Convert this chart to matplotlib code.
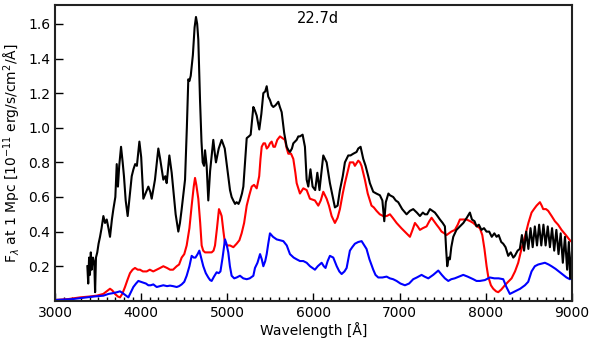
import numpy as np
import matplotlib
matplotlib.use("Agg")
import matplotlib.pyplot as plt

# black spectrum (observed)
black_wave = [3375, 3385, 3395, 3405, 3415, 3425, 3440, 3455, 3465, 3475, 3490, 3505, 3522, 3540, 3561,
              3580, 3600, 3620, 3638, 3660, 3677, 3700, 3716, 3730, 3745, 3766, 3785, 3800, 3820, 3843,
              3865, 3890, 3910, 3930, 3950, 3979, 4000, 4015, 4025, 4050, 4083, 4105, 4122, 4160, 4199,
              4220, 4238, 4257, 4280, 4296, 4327, 4354, 4373, 4400, 4431, 4450, 4470, 4509, 4530, 4547,
              4560, 4575, 4600, 4620, 4636, 4650, 4663, 4683, 4700, 4714, 4730, 4741, 4760, 4779, 4800,
              4837, 4855, 4868, 4900, 4934, 4970, 5000, 5031, 5050, 5069, 5090, 5108, 5130, 5147, 5170,
              5186, 5205, 5225, 5250, 5271, 5302, 5320, 5341, 5371, 5395, 5418, 5440, 5457, 5475, 5495,
              5515, 5534, 5560, 5592, 5610, 5631, 5660, 5689, 5710, 5727, 5750, 5766, 5785, 5805, 5824,
              5843, 5874, 5901, 5921, 5940, 5965, 5990, 6020, 6045, 6070, 6114, 6153, 6191, 6249, 6280,
              6307, 6340, 6365, 6404, 6430, 6462, 6500, 6520, 6547, 6578, 6605, 6636, 6655, 6694, 6730,
              6771, 6800, 6822, 6840, 6870, 6888, 6926, 6955, 6984, 7030, 7081, 7120, 7158, 7200, 7236,
              7270, 7294, 7320, 7352, 7380, 7410, 7440, 7468, 7500, 7526, 7540, 7553, 7570, 7584, 7600,
              7623, 7660, 7700, 7740, 7780, 7816, 7840, 7870, 7893, 7920, 7950, 7980, 8009, 8040, 8070,
              8100, 8126, 8150, 8180, 8203, 8230, 8261, 8290, 8320, 8338, 8370, 8396, 8420, 8445, 8470,
              8495, 8520, 8545, 8570, 8595, 8620, 8645, 8670, 8695, 8720, 8745, 8770, 8795, 8820, 8845,
              8870, 8895, 8920, 8945, 8965, 8980, 9000]
black_flux = [0.20, 0.10, 0.25, 0.15, 0.28, 0.18, 0.25, 0.22, 0.05, 0.25, 0.28, 0.33, 0.37, 0.42, 0.49,
              0.45, 0.47, 0.42, 0.37, 0.47, 0.53, 0.60, 0.79, 0.66, 0.78, 0.89, 0.80, 0.72, 0.58, 0.49,
              0.60, 0.72, 0.76, 0.79, 0.78, 0.92, 0.83, 0.68, 0.59, 0.62, 0.66, 0.63, 0.59, 0.70, 0.88,
              0.82, 0.76, 0.70, 0.72, 0.68, 0.84, 0.74, 0.64, 0.50, 0.40, 0.45, 0.53, 0.70, 1.00, 1.28,
              1.27, 1.30, 1.42, 1.58, 1.64, 1.60, 1.51, 1.16, 0.92, 0.80, 0.78, 0.87, 0.78, 0.58, 0.75,
              0.93, 0.85, 0.80, 0.88, 0.93, 0.88, 0.76, 0.64, 0.60, 0.58, 0.56, 0.57, 0.56, 0.58, 0.62,
              0.66, 0.80, 0.94, 0.95, 0.96, 1.12, 1.10, 1.07, 0.99, 1.08, 1.20, 1.21, 1.24, 1.18, 1.16,
              1.13, 1.12, 1.13, 1.15, 1.12, 1.09, 0.97, 0.89, 0.87, 0.86, 0.88, 0.91, 0.92, 0.93, 0.95,
              0.95, 0.96, 0.89, 0.70, 0.66, 0.76, 0.66, 0.64, 0.74, 0.64, 0.84, 0.80, 0.68, 0.54, 0.55,
              0.64, 0.72, 0.80, 0.84, 0.84, 0.85, 0.86, 0.88, 0.89, 0.82, 0.78, 0.72, 0.68, 0.63, 0.62,
              0.61, 0.58, 0.46, 0.57, 0.62, 0.61, 0.60, 0.58, 0.57, 0.53, 0.50, 0.52, 0.53, 0.51, 0.49,
              0.51, 0.50, 0.50, 0.53, 0.52, 0.51, 0.49, 0.47, 0.45, 0.43, 0.30, 0.20, 0.25, 0.24, 0.31,
              0.37, 0.41, 0.43, 0.45, 0.48, 0.51, 0.47, 0.46, 0.43, 0.44, 0.41, 0.42, 0.40, 0.40, 0.37,
              0.39, 0.37, 0.38, 0.34, 0.33, 0.31, 0.26, 0.28, 0.25, 0.26, 0.29, 0.30, 0.38, 0.29, 0.40,
              0.30, 0.42, 0.31, 0.43, 0.32, 0.44, 0.32, 0.44, 0.32, 0.43, 0.31, 0.42, 0.29, 0.41, 0.27,
              0.39, 0.22, 0.37, 0.18, 0.34, 0.13, 0.28]

# red model
red_wave = [3000, 3150, 3290, 3400, 3484, 3560, 3600, 3638, 3665, 3696, 3730, 3754, 3780, 3812, 3840,
            3870, 3900, 3928, 3960, 3986, 4020, 4064, 4100, 4140, 4180, 4220, 4257, 4300, 4335, 4370,
            4412, 4440, 4470, 4500, 4528, 4560, 4586, 4610, 4625, 4640, 4663, 4685, 4702, 4720, 4741,
            4780, 4818, 4840, 4857, 4880, 4903, 4920, 4934, 4955, 4973, 5000, 5031, 5070, 5108, 5140,
            5166, 5195, 5225, 5255, 5283, 5310, 5341, 5370, 5385, 5399, 5420, 5438, 5458, 5476, 5495,
            5515, 5535, 5553, 5580, 5611, 5640, 5669, 5690, 5708, 5740, 5766, 5790, 5805, 5843, 5882,
            5921, 5959, 6017, 6056, 6085, 6114, 6153, 6180, 6211, 6249, 6280, 6307, 6340, 6365, 6404,
            6423, 6462, 6481, 6520, 6540, 6558, 6597, 6630, 6674, 6700, 6732, 6770, 6810, 6850, 6888,
            6920, 6965, 7020, 7081, 7120, 7150, 7178, 7210, 7236, 7270, 7313, 7345, 7371, 7400, 7429,
            7460, 7487, 7520, 7545, 7600, 7642, 7675, 7700, 7740, 7777, 7820, 7855, 7900, 7932, 7960,
            7985, 8010, 8029, 8060, 8087, 8120, 8145, 8180, 8222, 8260, 8300, 8340, 8377, 8415, 8455,
            8495, 8532, 8560, 8590, 8629, 8650, 8667, 8700, 8725, 8765, 8803, 8840, 8880, 8930, 8977,
            9000]
red_flux = [0.005, 0.01, 0.02, 0.025, 0.03, 0.04, 0.055, 0.07, 0.06, 0.04, 0.025, 0.02, 0.04, 0.08, 0.12,
            0.16, 0.18, 0.19, 0.18, 0.18, 0.17, 0.17, 0.18, 0.17, 0.18, 0.19, 0.20, 0.19, 0.18, 0.18,
            0.20, 0.21, 0.25, 0.27, 0.32, 0.42, 0.55, 0.66, 0.71, 0.67, 0.59, 0.45, 0.32, 0.29, 0.28,
            0.28, 0.28, 0.29, 0.32, 0.42, 0.53, 0.51, 0.49, 0.40, 0.33, 0.32, 0.32, 0.31, 0.33, 0.35,
            0.39, 0.45, 0.55, 0.61, 0.66, 0.67, 0.65, 0.72, 0.82, 0.89, 0.91, 0.91, 0.88, 0.89, 0.91,
            0.92, 0.89, 0.89, 0.93, 0.95, 0.94, 0.93, 0.88, 0.85, 0.85, 0.82, 0.74, 0.68, 0.62, 0.65,
            0.64, 0.59, 0.58, 0.55, 0.58, 0.63, 0.59, 0.55, 0.49, 0.45, 0.48, 0.53, 0.62, 0.68, 0.76,
            0.80, 0.80, 0.78, 0.81, 0.80, 0.78, 0.70, 0.62, 0.55, 0.54, 0.52, 0.50, 0.49, 0.49, 0.50,
            0.48, 0.45, 0.42, 0.39, 0.37, 0.41, 0.45, 0.43, 0.41, 0.42, 0.43, 0.46, 0.48, 0.46, 0.44,
            0.42, 0.40, 0.39, 0.38, 0.40, 0.41, 0.44, 0.47, 0.47, 0.47, 0.46, 0.45, 0.43, 0.42, 0.38,
            0.30, 0.20, 0.14, 0.09, 0.07, 0.055, 0.05, 0.065, 0.09, 0.11, 0.13, 0.17, 0.22, 0.30, 0.37,
            0.45, 0.51, 0.53, 0.55, 0.57, 0.55, 0.53, 0.53, 0.52, 0.49, 0.46, 0.44, 0.41, 0.38, 0.35,
            0.34]

# blue model
blue_wave = [3000, 3200, 3367, 3450, 3561, 3620, 3677, 3720, 3754, 3785, 3812, 3851, 3880, 3909, 3940,
             3967, 3995, 4025, 4055, 4083, 4110, 4141, 4180, 4220, 4257, 4300, 4335, 4370, 4412, 4440,
             4470, 4500, 4528, 4560, 4586, 4610, 4630, 4655, 4675, 4700, 4721, 4750, 4779, 4800, 4818,
             4845, 4876, 4900, 4920, 4945, 4973, 4990, 5011, 5030, 5050, 5080, 5108, 5147, 5185, 5225,
             5260, 5302, 5321, 5350, 5380, 5400, 5418, 5440, 5457, 5475, 5495, 5530, 5573, 5610, 5650,
             5690, 5727, 5770, 5805, 5843, 5882, 5921, 5960, 6017, 6050, 6095, 6120, 6140, 6165, 6191,
             6230, 6270, 6300, 6327, 6360, 6385, 6423, 6450, 6481, 6520, 6559, 6590, 6616, 6650, 6694,
             6720, 6752, 6800, 6849, 6887, 6925, 6965, 7010, 7062, 7110, 7158, 7200, 7255, 7290, 7333,
             7390, 7449, 7490, 7526, 7565, 7600, 7640, 7690, 7739, 7790, 7855, 7893, 7932, 7990, 8048,
             8100, 8150, 8203, 8240, 8280, 8320, 8358, 8400, 8455, 8493, 8532, 8570, 8609, 8650, 8687,
             8730, 8764, 8810, 8861, 8900, 8938, 8977, 9000]
blue_flux = [0.005, 0.01, 0.02, 0.025, 0.03, 0.04, 0.045, 0.05, 0.055, 0.045, 0.035, 0.02, 0.05, 0.08, 0.10,
             0.115, 0.11, 0.105, 0.10, 0.09, 0.09, 0.095, 0.08, 0.085, 0.09, 0.085, 0.088, 0.085, 0.08, 0.085,
             0.095, 0.11, 0.145, 0.20, 0.26, 0.25, 0.25, 0.27, 0.29, 0.24, 0.20, 0.16, 0.135, 0.12, 0.115,
             0.14, 0.165, 0.16, 0.17, 0.25, 0.355, 0.33, 0.28, 0.20, 0.145, 0.13, 0.135, 0.145, 0.13, 0.125,
             0.13, 0.145, 0.19, 0.22, 0.27, 0.24, 0.20, 0.23, 0.27, 0.33, 0.39, 0.37, 0.355, 0.35, 0.345,
             0.32, 0.27, 0.25, 0.24, 0.23, 0.23, 0.22, 0.20, 0.18, 0.20, 0.22, 0.20, 0.19, 0.23, 0.26,
             0.25, 0.20, 0.17, 0.155, 0.17, 0.19, 0.29, 0.31, 0.33, 0.34, 0.345, 0.32, 0.30, 0.24, 0.18,
             0.15, 0.135, 0.135, 0.14, 0.13, 0.125, 0.115, 0.10, 0.09, 0.10, 0.125, 0.135, 0.15, 0.14, 0.13,
             0.15, 0.175, 0.15, 0.13, 0.115, 0.125, 0.13, 0.14, 0.15, 0.14, 0.125, 0.115, 0.115, 0.12, 0.135,
             0.13, 0.13, 0.125, 0.08, 0.04, 0.05, 0.06, 0.07, 0.09, 0.11, 0.17, 0.20, 0.21, 0.215, 0.22,
             0.21, 0.20, 0.185, 0.165, 0.15, 0.135, 0.125, 0.135]

fig = plt.figure(figsize=(5.92, 3.47), dpi=100)
ax = fig.add_axes([0.093, 0.133, 0.873, 0.853])

ax.plot(red_wave, red_flux, color='red', lw=1.5)
ax.plot(blue_wave, blue_flux, color='blue', lw=1.5)
ax.plot(black_wave, black_flux, color='black', lw=1.5)

ax.set_xlim(3000, 9000)
ax.set_ylim(0, 1.71)
ax.set_xticks([3000, 4000, 5000, 6000, 7000, 8000, 9000])
ax.set_xticks(np.arange(3000, 9001, 100), minor=True)
ax.set_yticks([0.2, 0.4, 0.6, 0.8, 1.0, 1.2, 1.4, 1.6])
ax.tick_params(which='both', direction='in', top=False, right=False, labelsize=10)
ax.tick_params(which='major', length=6, width=1)
ax.tick_params(which='minor', length=3, width=1)
for s in ax.spines.values():
    s.set_linewidth(1.5)
    s.set_color('#222222')

ax.set_xlabel('Wavelength [Å]', fontsize=10, labelpad=2)
ax.set_ylabel(r'F$_\lambda$ at 1 Mpc [10$^{-11}$ erg/s/cm$^2$/Å]', fontsize=10, labelpad=4)
ax.text(0.509, 0.955, '22.7d', transform=ax.transAxes, ha='center', va='center', fontsize=10.5)

fig.savefig('out.png', dpi=100)
